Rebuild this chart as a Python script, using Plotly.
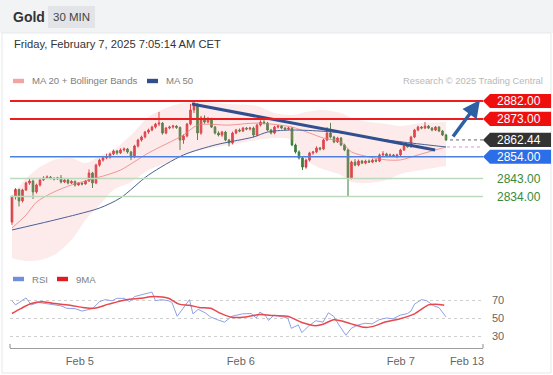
import plotly.graph_objects as go

W, H = 553, 375

# ---------------- data ----------------
candle_idx = list(range(125))
opens = [2821.2,2833.8,2837.5,2831.8,2837.3,2840.8,2841.8,2836.3,2839.8,2842.3,
         2843.3,2843.8,2843.1,2842.8,2843.4,2841.3,2842.3,2840.8,2841.6,2839.8,
         2840.8,2840.3,2841.8,2845.8,2840.8,2849.8,2852.3,2853.4,2853.9,2855.4,
         2856.9,2855.9,2857.4,2857.9,2856.4,2853.9,2859.4,2862.4,2863.9,2866.4,
         2867.4,2868.9,2870.4,2870.9,2865.9,2868.4,2868.9,2869.4,2868.7,2862.4,
         2864.4,2870.4,2877.5,2879.5,2865.9,2873.5,2871.4,2873.0,2868.9,2865.9,
         2864.9,2866.4,2862.4,2860.9,2865.9,2867.4,2866.9,2868.4,2867.9,2868.4,
         2864.9,2869.9,2871.4,2870.9,2867.4,2865.9,2868.9,2869.4,2868.4,2867.9,
         2868.4,2859.9,2856.4,2853.4,2848.8,2852.3,2855.9,2856.4,2858.4,2857.9,
         2862.4,2865.9,2863.9,2861.4,2863.4,2859.9,2857.4,2843.3,2851.3,2849.8,
         2851.8,2850.8,2851.8,2851.3,2852.3,2851.8,2854.9,2855.4,2854.4,2854.9,
         2854.4,2854.9,2857.4,2859.4,2859.0,2863.9,2867.4,2868.9,2868.4,2869.4,
         2868.4,2867.4,2868.9,2866.9,2864.9]
highs = [2834.5,2838.2,2838.0,2837.9,2841.5,2843.0,2842.5,2840.5,2843.0,2844.2,
         2844.6,2844.3,2843.7,2843.9,2844.8,2843.0,2842.8,2842.2,2842.0,2841.2,
         2841.0,2842.3,2847.6,2846.4,2850.5,2853.0,2853.9,2855.5,2856.0,2857.6,
         2857.3,2858.2,2858.6,2858.4,2857.0,2860.0,2863.0,2864.6,2867.0,2868.1,
         2869.6,2871.0,2876.5,2871.4,2869.0,2869.6,2870.0,2869.9,2869.2,2865.2,
         2871.0,2880.5,2882.2,2880.8,2874.5,2874.8,2874.0,2873.6,2869.5,2866.8,
         2867.0,2867.0,2863.0,2866.6,2868.0,2868.2,2869.0,2868.9,2869.0,2869.1,
         2870.6,2872.3,2872.4,2871.5,2868.0,2869.5,2870.0,2869.8,2868.9,2869.0,
         2868.9,2860.6,2857.2,2854.0,2853.0,2856.5,2856.9,2859.2,2858.9,2863.1,
         2868.9,2871.0,2864.5,2864.0,2863.9,2860.5,2858.0,2852.0,2852.8,2852.6,
         2852.4,2852.5,2852.6,2853.0,2852.8,2855.6,2856.8,2856.0,2855.6,2855.4,
         2855.5,2858.0,2860.0,2860.2,2864.5,2868.0,2869.6,2869.4,2871.4,2869.9,
         2868.9,2869.4,2869.3,2867.4,2865.5]
lows = [2819.8,2832.5,2829.0,2831.0,2836.8,2839.9,2832.8,2835.5,2839.0,2841.8,
        2842.9,2842.6,2842.1,2842.3,2840.6,2840.8,2840.1,2840.3,2839.0,2839.4,
        2839.6,2839.9,2841.3,2838.3,2840.2,2849.0,2851.5,2852.8,2853.0,2854.8,
        2855.0,2855.4,2856.6,2855.6,2852.3,2853.3,2858.6,2861.6,2863.2,2865.5,
        2866.8,2868.2,2869.4,2865.1,2865.3,2867.8,2868.1,2868.0,2857.4,2860.5,
        2863.8,2869.8,2876.0,2862.4,2865.0,2870.6,2870.8,2868.4,2865.2,2864.2,
        2864.0,2861.8,2859.2,2860.2,2865.3,2866.3,2866.4,2867.3,2867.2,2863.8,
        2864.3,2869.2,2870.2,2866.8,2865.2,2865.3,2868.2,2867.9,2867.1,2867.3,
        2859.3,2855.6,2852.6,2847.3,2848.0,2851.6,2855.0,2855.8,2857.1,2857.3,
        2861.8,2863.2,2860.8,2860.9,2859.3,2856.8,2833.8,2842.6,2849.2,2849.2,
        2850.3,2850.2,2850.9,2850.8,2851.2,2851.3,2854.3,2853.8,2854.0,2853.9,
        2853.2,2854.3,2856.9,2858.6,2858.5,2863.3,2866.8,2867.8,2867.9,2867.9,
        2866.8,2866.9,2866.4,2864.4,2861.9]
closes = [2833.8,2837.5,2831.8,2837.3,2840.8,2841.8,2836.3,2839.8,2842.3,2843.3,
          2843.8,2843.1,2842.8,2843.4,2841.3,2842.3,2840.8,2841.6,2839.8,2840.8,
          2840.3,2841.8,2845.8,2840.8,2849.8,2852.3,2853.4,2853.9,2855.4,2856.9,
          2855.9,2857.4,2857.9,2856.4,2853.9,2859.4,2862.4,2863.9,2866.4,2867.4,
          2868.9,2870.4,2870.9,2865.9,2868.4,2868.9,2869.4,2868.7,2862.4,2864.4,
          2870.4,2877.5,2879.5,2865.9,2873.5,2871.4,2873.0,2868.9,2865.9,2864.9,
          2866.4,2862.4,2860.9,2865.9,2867.4,2866.9,2868.4,2867.9,2868.4,2864.9,
          2869.9,2871.4,2870.9,2867.4,2865.9,2868.9,2869.4,2868.4,2867.9,2868.4,
          2859.9,2856.4,2853.4,2848.8,2852.3,2855.9,2856.4,2858.4,2857.9,2862.4,
          2865.9,2863.9,2861.4,2863.4,2859.9,2857.4,2843.3,2851.3,2849.8,2851.8,
          2850.8,2851.8,2851.3,2852.3,2851.8,2854.9,2855.4,2854.4,2854.9,2854.4,
          2854.9,2857.4,2859.4,2859.0,2863.9,2867.4,2868.9,2868.4,2869.4,2868.4,
          2867.4,2868.9,2866.9,2864.9,2862.44]

bb_idx = [0,4,8,12,17,21,25,29,34,39,44,49,54,62,70,75,80,84,88,94,97,102,107,111,117,124]
bb_upper = [2834.5,2843.0,2848.8,2852.4,2853.4,2850.8,2854.4,2857.4,2864.9,2874.0,
            2878.5,2881.0,2881.5,2880.5,2879.5,2876.0,2875.0,2876.5,2877.5,2876.0,
            2873.5,2871.4,2870.4,2869.4,2870.9,2871.4]
bb_lower = [2803.1,2801.6,2802.1,2804.6,2812.2,2822.2,2829.7,2837.3,2841.3,2847.3,
            2850.8,2854.9,2857.4,2859.9,2862.4,2863.4,2862.4,2852.4,2848.3,2844.8,
            2841.3,2840.8,2842.3,2845.3,2847.3,2849.3]

ma20_idx = [0,4,7,12,17,22,27,31,39,49,53,62,70,80,85,89,94,97,102,107,111,116,121,124]
ma20 = [2818.2,2824.7,2831.2,2836.3,2839.8,2842.3,2844.8,2847.3,2855.9,2864.9,2869.9,
        2869.9,2870.9,2868.9,2865.9,2863.4,2861.4,2856.4,2853.9,2852.4,2852.4,2854.9,
        2857.4,2858.9]

ma50_idx = [0,11,19,25,31,39,49,58,62,69,73,79,88,97,105,114,124]
ma50 = [2817.2,2821.7,2825.2,2828.2,2833.3,2844.8,2854.9,2859.9,2861.4,2863.9,2866.4,
        2867.4,2866.9,2865.4,2862.9,2860.9,2858.9]

trend_x = [51.4, 120.9]
trend_y = [2880.5, 2857.4]
arrow_from = (125.7, 2863.4)
arrow_to = (133.7, 2882.5)

levels = [2882.00, 2873.00, 2862.44, 2854.00, 2843.00, 2834.00]
level_kind = ["res", "res", "last", "sup_main", "sup", "sup"]
ma_last_value = 2858.9

rsi_idx = [0,1,4,5.5,7.5,11.5,14,15.6,18,20,21.6,23,25,26.6,28.6,30,32,33.6,35,37,
           38.7,40,41,42.7,44.7,45.7,47.2,48.7,50.7,51.7,53.2,55.2,56.7,58.7,60.7,
           62.8,65.8,68.3,69.8,70.8,72.3,73.3,74.8,76.8,78.8,79.8,81.8,82.8,84.8,
           86.8,88.9,90.4,91.9,93.4,95.4,96.9,98.9,100.9,102.9,104.9,106.9,108.9,
           110.9,113,114,115,117,118.5,120.5,122,124]
rsi = [69.2,64.6,72.3,64.6,67.3,65.4,63.5,60.8,60.4,57.7,59.6,60.4,68.1,70.4,69.2,
       71.9,71.9,68.1,73.8,75.8,77.7,78.8,69.2,70.4,69.2,67.3,51.9,59.6,70.4,54.6,
       59.6,55.8,51.2,48.1,45.4,51.9,54.6,55.0,50.0,56.5,53.1,47.3,53.1,51.9,50.0,
       38.5,42.3,33.8,41.2,46.9,45.4,55.8,51.9,42.3,30.8,38.5,42.3,44.2,43.5,48.1,
       50.0,49.2,53.1,55.0,57.7,65.4,70.4,69.2,63.5,61.5,51.2]

rsi_ma_idx = [0,2.5,5.5,8.5,11.5,16.6,20.6,23.6,27.6,32.6,36.6,40.7,44.7,47.7,50.7,
              53.7,56.7,59.7,62.8,66.8,70.8,74.8,78.8,82.8,86.8,88.9,91.9,93.9,96.9,
              100.9,102.9,106.9,110.9,115,119,121,123.5]
rsi_ma = [55.0,60.4,66.2,68.1,66.5,64.2,61.5,60.8,65.4,70.4,71.9,73.8,71.9,65.4,64.2,
          61.5,60.8,55.0,50.8,51.2,53.8,52.7,51.9,45.0,41.5,43.1,48.1,46.9,43.5,39.6,
          40.4,45.8,49.2,54.6,64.6,65.4,64.2]

rsi_levels = [70, 50, 30]
tick_idx = [19.4, 65.4, 111.1, 130.0]
tick_text = ["Feb 5", "Feb 6", "Feb 7", "Feb 13"]

title = "Gold"
interval = "30 MIN"
timestamp = "Friday, February 7, 2025 7:05:14 AM CET"
credit = "Research © 2025 Trading Central"

# ---------------- layout helpers ----------------
FONT = "Liberation Sans, Arial, sans-serif"
def px(x):
    return x / W
def py(y):
    return 1 - y / H

X_LEFT, X_RIGHT = 10, 483
x_range = [-0.57, 134.57]
price_dom_px = (90, 266)
price_range = [2799.09, 2887.53]
rsi_dom_px = (290, 348)
rsi_range = [16.67, 81.11]

fig = go.Figure()

# Bollinger band fill
fig.add_trace(go.Scatter(x=bb_idx, y=bb_upper, mode="lines", line=dict(width=0, shape="spline", smoothing=0.8),
                         hoverinfo="skip", showlegend=False, xaxis="x", yaxis="y"))
fig.add_trace(go.Scatter(x=bb_idx, y=bb_lower, mode="lines", line=dict(width=0, shape="spline", smoothing=0.8),
                         fill="tonexty", fillcolor="rgba(246,150,150,0.2)",
                         hoverinfo="skip", showlegend=False, xaxis="x", yaxis="y"))
# MA20
fig.add_trace(go.Scatter(x=ma20_idx, y=ma20, mode="lines",
                         line=dict(color="rgba(238,120,120,0.75)", width=1, shape="spline", smoothing=0.8),
                         showlegend=False, xaxis="x", yaxis="y"))
# MA50
fig.add_trace(go.Scatter(x=ma50_idx, y=ma50, mode="lines",
                         line=dict(color="#4a5f96", width=1, shape="spline", smoothing=0.8),
                         showlegend=False, xaxis="x", yaxis="y"))
# candles
fig.add_trace(go.Candlestick(x=candle_idx, open=opens, high=highs, low=lows, close=closes,
                             increasing=dict(line=dict(color="#d8343a", width=1), fillcolor="#d8343a"),
                             decreasing=dict(line=dict(color="#3a7d3a", width=1), fillcolor="#3a7d3a"),
                             showlegend=False, xaxis="x", yaxis="y", whiskerwidth=0))
# trend line
fig.add_trace(go.Scatter(x=trend_x, y=trend_y, mode="lines", line=dict(color="#2f4f8f", width=3),
                         showlegend=False, xaxis="x", yaxis="y"))

# RSI
fig.add_trace(go.Scatter(x=rsi_idx, y=rsi, mode="lines", line=dict(color="#8ea2e6", width=1),
                         showlegend=False, xaxis="x2", yaxis="y2"))
fig.add_trace(go.Scatter(x=rsi_ma_idx, y=rsi_ma, mode="lines",
                         line=dict(color="#e8474c", width=1.5, shape="spline", smoothing=0.8),
                         showlegend=False, xaxis="x2", yaxis="y2"))

shapes = []
annotations = []

# header
shapes.append(dict(type="rect", xref="paper", yref="paper", x0=0, x1=1, y0=py(33), y1=1,
                   fillcolor="#f2f3f5", line=dict(width=0), layer="below"))
shapes.append(dict(type="rect", xref="paper", yref="paper", x0=px(2), x1=px(551), y0=py(373), y1=py(33),
                   fillcolor="rgba(0,0,0,0)", line=dict(color="#e6e7ea", width=1), layer="below"))
shapes.append(dict(type="rect", xref="paper", yref="paper", x0=px(48), x1=px(95), y0=py(28), y1=py(6),
                   fillcolor="#e2e4e8", line=dict(width=0), layer="below"))
annotations.append(dict(xref="paper", yref="paper", x=px(11), y=py(17), text=f"<b>{title}</b>",
                        showarrow=False, xanchor="left", yanchor="middle",
                        font=dict(family=FONT, size=14, color="#333333")))
annotations.append(dict(xref="paper", yref="paper", x=px(71.5), y=py(17), text=interval,
                        showarrow=False, xanchor="center", yanchor="middle",
                        font=dict(family=FONT, size=11.5, color="#444444")))
annotations.append(dict(xref="paper", yref="paper", x=px(12), y=py(44), text=timestamp,
                        showarrow=False, xanchor="left", yanchor="middle",
                        font=dict(family=FONT, size=11.2, color="#333333")))

# legends
def legend_item(x0, y, color, label):
    shapes.append(dict(type="rect", xref="paper", yref="paper", x0=px(x0), x1=px(x0 + 11),
                       y0=py(y + 2.2), y1=py(y - 2.2), fillcolor=color, line=dict(width=0)))
    annotations.append(dict(xref="paper", yref="paper", x=px(x0 + 17), y=py(y), text=label,
                            showarrow=False, xanchor="left", yanchor="middle",
                            font=dict(family=FONT, size=9.6, color="#7e7e7e")))

legend_item(13, 81, "#f4a3a3", "MA 20 + Bollinger Bands")
legend_item(147, 81, "#2f4f8f", "MA 50")
legend_item(13, 279, "#6f8ee0", "RSI")
legend_item(57, 279, "#e01b22", "9MA")
annotations.append(dict(xref="paper", yref="paper", x=px(545), y=py(81), text=credit,
                        showarrow=False, xanchor="right", yanchor="middle",
                        font=dict(family=FONT, size=9.4, color="#b8b8b8")))

# price levels
HALF = 3.55
for val, kind in zip(levels, level_kind):
    if kind == "res":
        lc, lw, box = "#ee1c1c", 2, "#f00f0f"
    elif kind == "sup_main":
        lc, lw, box = "#4c82de", 1.5, "#2a6ee8"
    elif kind == "sup":
        lc, lw, box = "#bcd9bc", 1.5, None
    else:
        lc, lw, box = None, 0, "#333333"
    if lc:
        shapes.append(dict(type="line", xref="paper", yref="y", x0=px(X_LEFT), x1=px(X_RIGHT),
                           y0=val, y1=val, line=dict(color=lc, width=lw), layer="above"))
    else:
        shapes.append(dict(type="line", xref="paper", yref="y", x0=px(450), x1=px(X_RIGHT),
                           y0=val, y1=val, line=dict(color="#666666", width=1, dash="dot"), layer="above"))
    if box:
        path = (f"M {px(483)},{val} L {px(490)},{val + HALF} L {px(551)},{val + HALF} "
                f"L {px(551)},{val - HALF} L {px(490)},{val - HALF} Z")
        shapes.append(dict(type="path", xref="paper", yref="y", path=path, fillcolor=box,
                           line=dict(width=0), layer="above"))
        annotations.append(dict(xref="paper", yref="y", x=px(519), y=val, text=f"{val:.2f}",
                                showarrow=False, xanchor="center", yanchor="middle",
                                font=dict(family=FONT, size=12, color="white")))
    else:
        annotations.append(dict(xref="paper", yref="y", x=px(519), y=val, text=f"{val:.2f}",
                                showarrow=False, xanchor="center", yanchor="middle",
                                font=dict(family=FONT, size=12, color="#3a8a3a")))

shapes.append(dict(type="line", xref="paper", yref="y", x0=px(447), x1=px(X_RIGHT),
                   y0=ma_last_value, y1=ma_last_value,
                   line=dict(color="#c4a6d0", width=1, dash="dot"), layer="above"))

# arrow
annotations.append(dict(x=arrow_to[0], y=arrow_to[1], ax=arrow_from[0], ay=arrow_from[1],
                        xref="x", yref="y", axref="x", ayref="y", text="", showarrow=True,
                        arrowhead=2, arrowsize=1, arrowwidth=3.5, arrowcolor="#2c5fa6", standoff=0))

# x-axis end ticks
for xe in (X_LEFT, X_RIGHT):
    shapes.append(dict(type="line", xref="paper", yref="paper", x0=px(xe), x1=px(xe),
                       y0=py(348), y1=py(344), line=dict(color="#9e9e9e", width=1.2)))

fig.update_layout(
    width=W, height=H, margin=dict(l=0, r=0, t=0, b=0),
    paper_bgcolor="white", plot_bgcolor="rgba(0,0,0,0)",
    showlegend=False, shapes=shapes, annotations=annotations,
    boxgap=0.35,
    xaxis=dict(domain=[px(X_LEFT), px(X_RIGHT)], range=x_range, visible=False,
               rangeslider=dict(visible=False), anchor="y", matches="x2"),
    yaxis=dict(domain=[py(price_dom_px[1]), py(price_dom_px[0])], range=price_range,
               visible=False, anchor="x"),
    xaxis2=dict(domain=[px(X_LEFT), px(X_RIGHT)], range=x_range, anchor="y2",
                showline=True, linecolor="#9e9e9e", linewidth=1.2, showgrid=False, zeroline=False,
                ticks="", tickvals=tick_idx, ticktext=tick_text, ticklabelstandoff=3,
                tickfont=dict(family=FONT, size=11, color="#666666")),
    yaxis2=dict(domain=[py(rsi_dom_px[1]), py(rsi_dom_px[0])], range=rsi_range, anchor="x2",
                side="right", showline=False, zeroline=False, tickvals=rsi_levels,
                showgrid=True, gridcolor="#cfcfcf", griddash="dot", gridwidth=1,
                ticks="", ticklabelstandoff=8,
                tickfont=dict(family=FONT, size=11, color="#666666")),
)

fig.write_html("out.html", config={"displayModeBar": False},
               post_script="document.body.style.margin='0';document.body.style.overflow='hidden';")
